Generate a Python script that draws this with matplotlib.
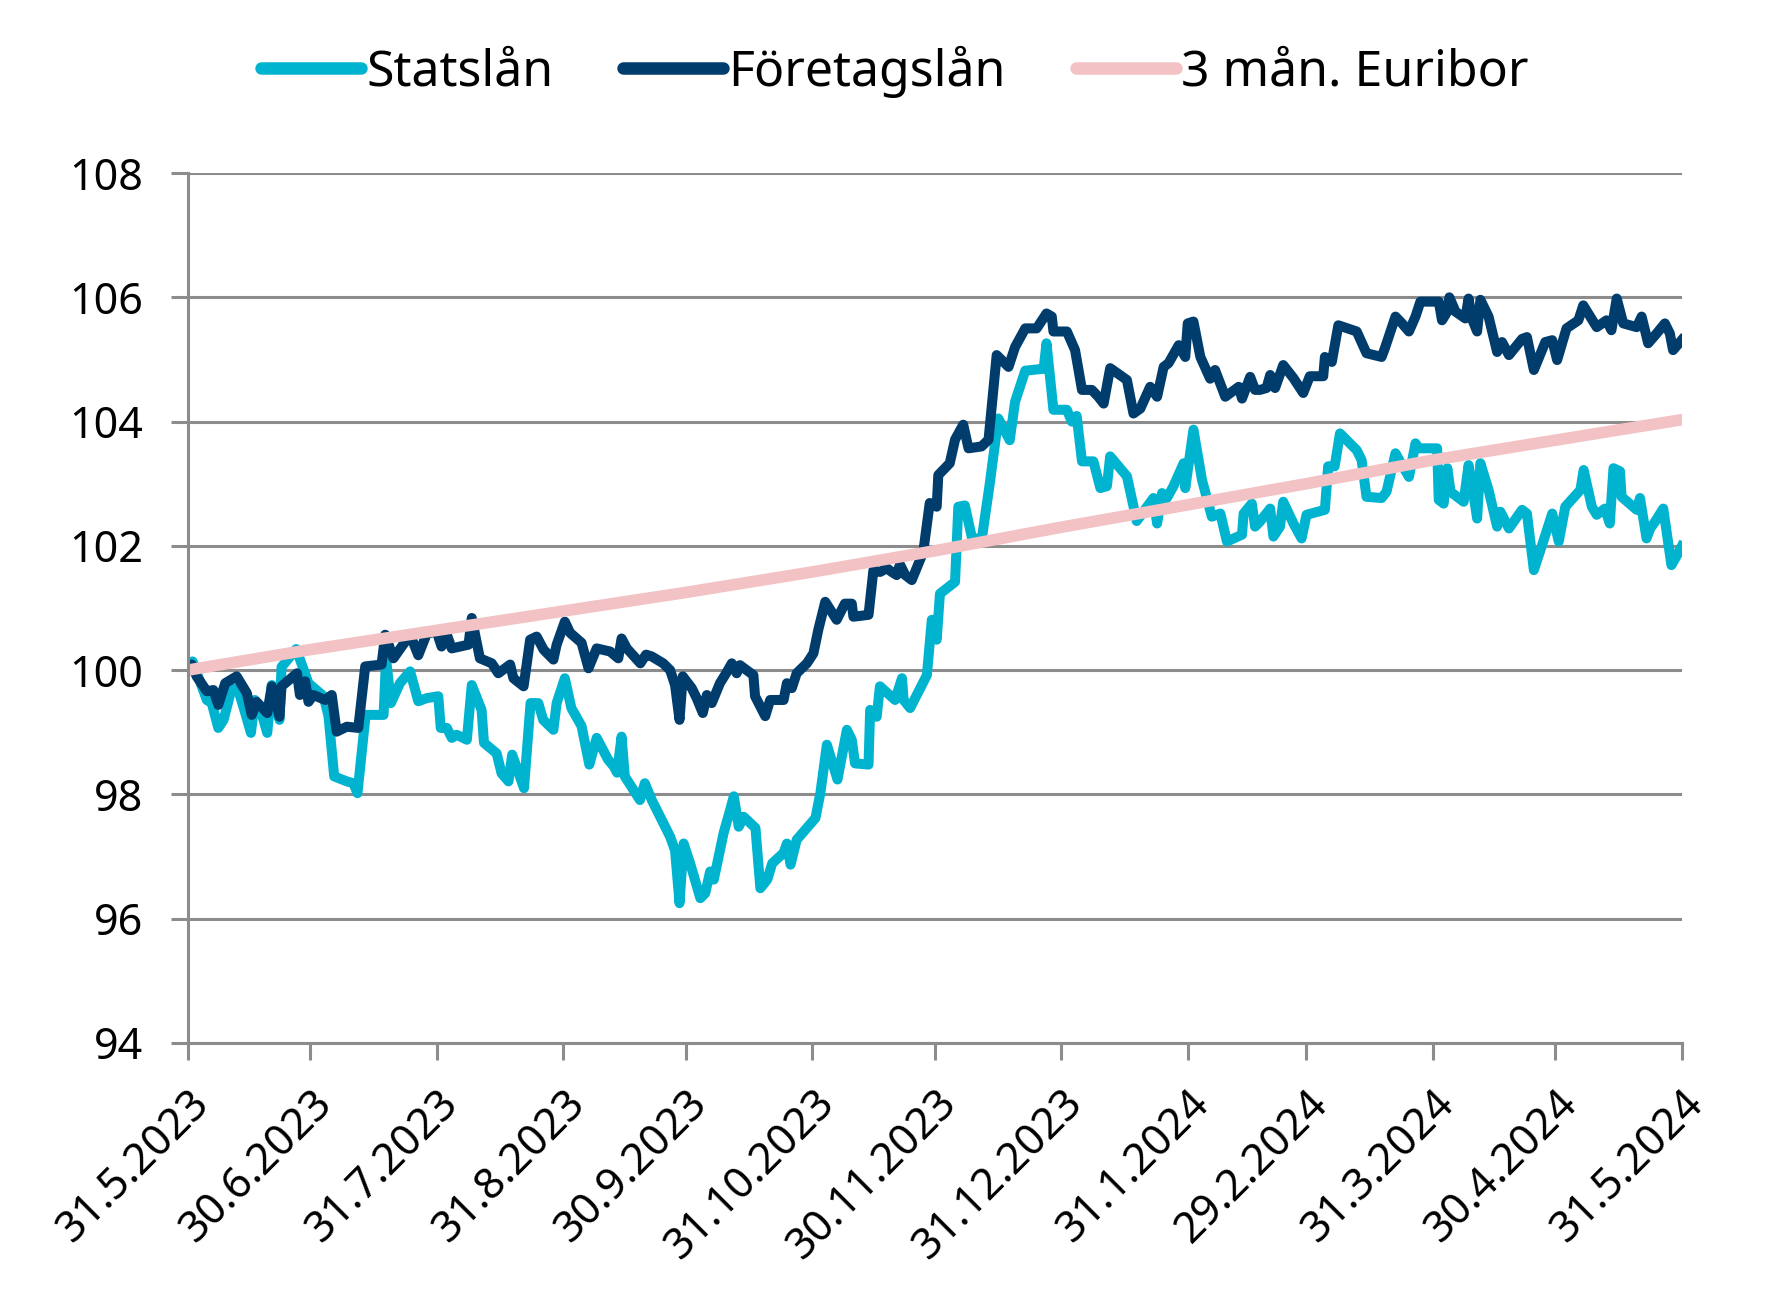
import datetime as dt
import matplotlib
matplotlib.use("Agg")
import matplotlib.pyplot as plt
import matplotlib.dates as mdates
import numpy as np

plt.rcParams['font.family'] = ['Noto Sans', 'DejaVu Sans']

start = dt.date(2023, 5, 31)

# days since 31.5.2023 and index values
stat_days = [0, 1.2, 4.7, 5.9, 7.5, 8.8, 10.8, 12.4, 14.1, 15.5, 16.5, 18.1, 19.5, 20.6, 22.5, 23.0,
             26.6, 29.6, 33.3, 34.5, 35.9, 39.0, 40.6, 41.6, 43.6, 48.0, 48.6, 49.8, 52.0, 54.5,
             56.5, 58.6, 61.4, 62.0, 63.5, 64.7, 65.9, 68.4, 69.6, 72.0, 72.6, 75.7, 76.9, 78.6,
             79.5, 82.4, 84.0, 85.9, 87.1, 89.6, 90.4, 92.4, 94.0, 96.5, 98.4, 100.2, 103.0, 104.4,
             105.2, 106.3, 107.1, 110.8, 112.0, 113.7, 118.2, 119.4, 120.5, 121.5, 123.1, 125.6,
             126.8, 128.0, 128.9, 131.3, 132.9, 133.8, 135.0, 136.2, 139.1, 140.3, 142.0, 143.2,
             146.0, 146.8, 147.7, 149.2, 153.8, 155.0, 156.6, 159.2, 161.5, 162.7, 163.5, 166.8,
             167.2, 168.8, 169.6, 173.3, 175.0, 175.4, 177.0, 181.1, 182.3, 183.5, 184.3, 188.0,
             188.8, 190.4, 192.1, 194.5, 196.5, 198.6, 201.4, 202.7, 205.2, 209.7, 210.4, 212.1,
             215.4, 216.6, 217.8, 219.1, 221.9, 223.6, 225.2, 226.0, 230.1, 232.5, 236.6, 237.5,
             238.7, 239.9, 241.5, 244.0, 244.4, 246.4, 248.5, 250.9, 253.0, 254.6, 258.3, 258.7,
             260.7, 261.5, 262.7, 265.2, 266.0, 267.6, 268.4, 270.9, 272.9, 274.1, 278.6, 279.4,
             281.0, 282.3, 286.4, 287.6, 288.8, 292.5, 293.7, 295.9, 297.5, 299.2, 300.8, 301.6,
             306.1, 306.5, 307.7, 308.6, 309.4, 312.6, 313.8, 314.6, 315.9, 316.7, 318.7, 320.8,
             321.6, 323.7, 326.9, 328.1, 329.8, 332.2, 334.3, 335.9, 337.5, 341.2, 342.0, 344.0,
             345.2, 347.2, 348.4, 349.3, 350.9, 351.3, 355.0, 355.8, 357.4, 358.3, 359.5, 361.5,
             363.5, 364.7, 366.0]
stat_vals = [100.0, 100.14, 99.52, 99.47, 99.07, 99.20, 99.71, 99.68, 99.31, 98.99, 99.52, 99.31,
             98.99, 99.76, 99.20, 100.05, 100.34, 99.79, 99.58, 99.26, 98.29, 98.21, 98.18, 98.02,
             99.28, 99.28, 100.19, 99.47, 99.79, 99.98, 99.50, 99.55, 99.58, 99.07, 99.07, 98.91,
             98.96, 98.88, 99.76, 99.36, 98.83, 98.66, 98.34, 98.21, 98.64, 98.10, 99.47, 99.47,
             99.20, 99.04, 99.47, 99.87, 99.39, 99.10, 98.48, 98.91, 98.56, 98.45, 98.35, 98.93,
             98.29, 97.91, 98.18, 97.91, 97.32, 97.10, 96.25, 97.21, 96.89, 96.33, 96.41, 96.76,
             96.63, 97.38, 97.75, 97.97, 97.48, 97.64, 97.46, 96.49, 96.63, 96.89, 97.06, 97.21,
             96.87, 97.27, 97.62, 98.02, 98.80, 98.24, 99.04, 98.88, 98.50, 98.48, 99.36, 99.25,
             99.74, 99.52, 99.87, 99.52, 99.39, 99.92, 100.81, 100.49, 101.23, 101.42, 102.63,
             102.65, 102.14, 102.09, 103.00, 104.05, 103.70, 104.32, 104.82, 104.85, 105.26,
             104.19, 104.19, 104.00, 104.09, 103.36, 103.36, 102.93, 102.96, 103.44, 103.12,
             102.40, 102.77, 102.36, 102.85, 102.77, 102.96, 103.33, 102.93, 103.87, 103.06,
             102.47, 102.52, 102.07, 102.18, 102.52, 102.68, 102.31, 102.39, 102.60, 102.15,
             102.31, 102.71, 102.36, 102.12, 102.50, 102.58, 103.28, 103.28, 103.81, 103.54,
             103.38, 102.79, 102.77, 102.87, 103.49, 103.30, 103.11, 103.65, 103.57, 103.57,
             102.74, 102.68, 103.25, 102.87, 102.71, 103.30, 103.00, 102.44, 103.33, 102.90,
             102.31, 102.55, 102.28, 102.58, 102.52, 101.61, 102.09, 102.52, 102.07, 102.63,
             102.90, 103.22, 102.63, 102.50, 102.60, 102.36, 103.25, 103.20, 102.79, 102.58,
             102.77, 102.12, 102.28, 102.39, 102.60, 101.69, 101.83, 101.99]

comp_days = [0, 1, 2.2, 4.7, 6.3, 7.5, 9.2, 12.0, 14.5, 15.7, 16.9, 19.5, 20.6, 22.5, 23.0, 26.8,
             27.5, 28.8, 29.6, 30.8, 33.7, 35.3, 36.5, 39.0, 41.8, 43.5, 47.5, 48.4, 50.4, 54.5,
             56.5, 58.6, 61.0, 62.2, 63.5, 64.7, 68.8, 69.6, 71.6, 74.5, 76.1, 79.0, 79.8, 82.3,
             83.9, 85.5, 87.2, 89.6, 90.4, 92.4, 93.7, 96.5, 98.2, 100.2, 103.5, 105.5, 106.3,
             107.6, 110.9, 112.3, 113.7, 116.5, 118.2, 119.4, 120.5, 121.3, 123.5, 124.7, 126.2,
             127.2, 128.4, 130.4, 132.1, 133.3, 134.5, 135.3, 138.6, 139.0, 141.5, 142.7, 146.0,
             146.8, 148.0, 149.2, 151.7, 153.3, 154.5, 156.2, 159.0, 161.0, 162.7, 163.1, 166.8,
             168.0, 169.6, 171.3, 172.5, 173.7, 174.5, 175.8, 177.4, 180.2, 181.8, 183.5, 183.9,
             186.7, 188.0, 190.0, 191.3, 194.5, 196.2, 198.2, 201.1, 202.7, 205.2, 208.0, 210.4,
             211.7, 212.1, 215.4, 217.4, 219.1, 221.5, 223.1, 224.4, 226.0, 230.1, 231.7, 233.4,
             235.8, 237.5, 239.1, 240.3, 242.8, 244.4, 245.0, 246.4, 248.1, 250.5, 251.7, 254.2,
             257.5, 258.3, 260.3, 261.5, 262.7, 264.3, 265.2, 266.4, 268.4, 270.9, 273.3, 274.9,
             278.2, 278.6, 280.3, 281.9, 286.4, 288.8, 292.5, 293.3, 295.9, 297.5, 299.2, 300.8,
             302.0, 306.5, 307.3, 308.6, 309.1, 310.6, 313.0, 313.8, 314.6, 315.9, 316.7, 318.7,
             320.8, 322.0, 323.7, 326.9, 328.1, 329.8, 332.6, 334.3, 335.5, 337.8, 340.7, 341.9,
             345.2, 347.6, 348.8, 350.1, 351.7, 355.0, 356.2, 357.8, 359.9, 361.9, 363.1, 363.9,
             366.0]
comp_vals = [100.0, 100.09, 99.90, 99.66, 99.68, 99.44, 99.79, 99.90, 99.63, 99.28, 99.49, 99.31,
             99.74, 99.25, 99.74, 99.95, 99.60, 99.82, 99.49, 99.60, 99.52, 99.60, 99.01, 99.09,
             99.07, 100.06, 100.09, 100.57, 100.19, 100.57, 100.24, 100.59, 100.62, 100.38, 100.57,
             100.35, 100.41, 100.84, 100.19, 100.11, 99.95, 100.09, 99.87, 99.74, 100.49, 100.54,
             100.33, 100.17, 100.41, 100.78, 100.60, 100.44, 100.03, 100.35, 100.30, 100.19, 100.51,
             100.35, 100.11, 100.25, 100.22, 100.11, 100.00, 99.76, 99.20, 99.90, 99.71, 99.55,
             99.31, 99.60, 99.47, 99.79, 99.97, 100.11, 99.95, 100.08, 99.92, 99.58, 99.26, 99.52,
             99.52, 99.79, 99.71, 99.95, 100.11, 100.27, 100.65, 101.10, 100.81, 101.07, 101.07,
             100.86, 100.89, 101.61, 101.58, 101.64, 101.58, 101.53, 101.70, 101.53, 101.45,
             101.90, 102.69, 102.63, 103.14, 103.33, 103.71, 103.95, 103.57, 103.60, 103.71,
             105.07, 104.88, 105.20, 105.50, 105.50, 105.74, 105.69, 105.45, 105.45, 105.15,
             104.51, 104.51, 104.40, 104.29, 104.86, 104.67, 104.13, 104.21, 104.56, 104.40,
             104.88, 104.94, 105.23, 105.04, 105.58, 105.61, 105.04, 104.69, 104.83, 104.40,
             104.56, 104.37, 104.72, 104.51, 104.51, 104.54, 104.75, 104.54, 104.91, 104.70,
             104.46, 104.73, 104.73, 105.04, 104.96, 105.55, 105.45, 105.10, 105.04, 105.18,
             105.69, 105.58, 105.45, 105.69, 105.93, 105.93, 105.63, 105.77, 106.00, 105.77,
             105.66, 105.98, 105.66, 105.45, 105.96, 105.69, 105.12, 105.28, 105.07, 105.33,
             105.36, 104.83, 105.28, 105.31, 104.99, 105.50, 105.63, 105.87, 105.52, 105.63,
             105.47, 105.98, 105.58, 105.52, 105.69, 105.26, 105.42, 105.58, 105.42, 105.15,
             105.31]

eur_days = [0, 30, 61, 92, 122, 153, 183, 214, 245, 274, 305, 335, 366]
eur_vals = [100.0, 100.33, 100.64, 100.95, 101.25, 101.58, 101.92, 102.30, 102.66, 103.00,
            103.38, 103.70, 104.03]

tick_dates = ['2023-05-31', '2023-06-30', '2023-07-31', '2023-08-31', '2023-09-30',
              '2023-10-31', '2023-11-30', '2023-12-31', '2024-01-31', '2024-02-29',
              '2024-03-31', '2024-04-30', '2024-05-31']
tick_labels = ['31.5.2023', '30.6.2023', '31.7.2023', '31.8.2023', '30.9.2023',
               '31.10.2023', '30.11.2023', '31.12.2023', '31.1.2024', '29.2.2024',
               '31.3.2024', '30.4.2024', '31.5.2024']

x0 = mdates.date2num(start)
to_x = lambda d: x0 + np.asarray(d, dtype=float)

fig = plt.figure(figsize=(8.86, 6.5), dpi=200)
ax = fig.add_axes([0.1059, 0.1977, 0.8431, 0.6692])

ax.plot(to_x(stat_days), stat_vals, color='#00B4D0', lw=3.6, label='Statslån',
        solid_joinstyle='round')
ax.plot(to_x(comp_days), comp_vals, color='#003C6C', lw=3.6, label='Företagslån',
        solid_joinstyle='round')
ax.plot(to_x(eur_days), eur_vals, color='#F2C2C4', lw=4.2, label='3 mån. Euribor',
        solid_capstyle='round')

ax.set_xlim(to_x(0), to_x(366))
ax.set_ylim(94, 108)
ax.set_yticks(range(94, 109, 2))
ax.yaxis.grid(True, color='#8c8c8c', lw=1.1)
ax.set_axisbelow(True)

tx = [mdates.date2num(dt.date.fromisoformat(d)) for d in tick_dates]
ax.set_xticks(tx)
ax.set_xticklabels(tick_labels, rotation=45, ha='right', rotation_mode='anchor')

for s in ['top', 'right']:
    ax.spines[s].set_visible(False)
for s in ['left', 'bottom']:
    ax.spines[s].set_color('#8c8c8c')
    ax.spines[s].set_linewidth(1.1)
ax.tick_params(axis='both', colors='#8c8c8c', labelcolor='black', labelsize=15.5,
               length=6, width=1.1)
ax.tick_params(axis='x', pad=8)
ax.tick_params(axis='y', pad=10)

leg = fig.legend(loc='center', bbox_to_anchor=(0.505, 0.945), ncol=3, frameon=False,
                 fontsize=18, handlelength=2.0, handletextpad=0.1, columnspacing=1.4)
for h in leg.get_lines():
    h.set_linewidth(4.5)
    h.set_solid_capstyle('round')

fig.savefig('out.png', dpi=200)
